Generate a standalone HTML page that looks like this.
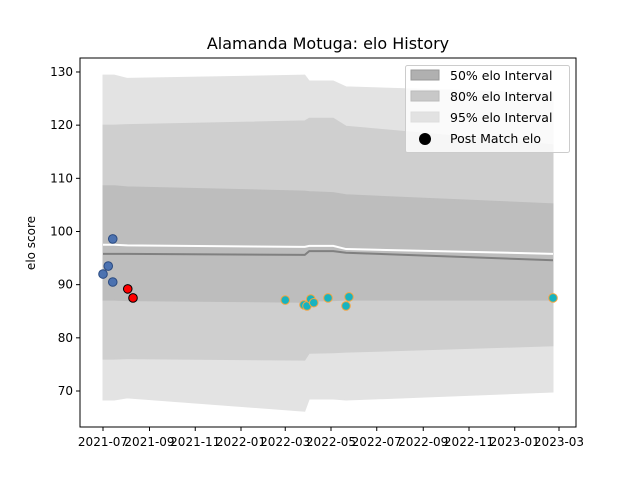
<!DOCTYPE html>
<html><head><meta charset="utf-8"><style>
body{margin:0;background:#fff;font-family:"Liberation Sans","DejaVu Sans",sans-serif}
text{font-family:"DejaVu Sans","Liberation Sans",sans-serif}
</style></head><body>
<svg id="c" width="640" height="480" xmlns="http://www.w3.org/2000/svg"></svg>
<script>
const bandDates=["2021-07-01","2021-07-16","2021-08-02","2022-03-27","2022-04-02","2022-05-04","2022-05-21","2023-02-21"];
const up95=[129.4,129.4,128.8,129.4,128.3,128.3,127.2,126.0];
const lo95=[68.3,68.3,68.7,66.2,68.5,68.5,68.3,69.8];
const up80=[120.0,120.0,120.1,120.8,121.3,121.3,119.8,116.3];
const lo80=[76.0,76.0,76.1,75.8,77.1,77.2,77.3,78.5];
const up50=[108.6,108.6,108.4,107.6,107.5,107.3,106.9,105.2];
const lo50=[87.1,87.1,87.0,86.7,86.9,87.0,87.1,87.1];
const median=[95.8,95.8,95.8,95.6,96.3,96.3,96.0,94.6];
const mean=[97.5,97.5,97.4,97.1,97.3,97.3,96.7,95.8];
const blueDates=["2021-07-14","2021-07-08","2021-07-01","2021-07-14"];
const blueVals=[98.6,93.5,92.0,90.5];
const redDates=["2021-08-03","2021-08-10"];
const redVals=[89.2,87.5];
const tealDates=["2022-03-01","2022-03-26","2022-03-30","2022-04-04","2022-04-08","2022-04-27","2022-05-21","2022-05-25","2023-02-21"];
const tealVals=[87.1,86.2,86.0,87.3,86.6,87.5,86.0,87.7,87.5];
const xTicks=["2021-07","2021-09","2021-11","2022-01","2022-03","2022-05","2022-07","2022-09","2022-11","2023-01","2023-03"];
const yTicks=[70,80,90,100,110,120,130];

const NS="http://www.w3.org/2000/svg",svg=document.getElementById('c');
const t0=Date.UTC(2021,6,1);
function days(s){const p=s.split('-').map(Number);return (Date.UTC(p[0],p[1]-1,p[2]||1)-t0)/86400000;}
const X=s=>103+days(s)*0.75;
const Y=v=>391-(v-70)*5.317;
function el(tag,a,txt){const e=document.createElementNS(NS,tag);for(const k in a)e.setAttribute(k,a[k]);if(txt!=null)e.textContent=txt;svg.appendChild(e);return e;}
function band(up,lo,fill,name){
 let d=bandDates.map((s,i)=>(i?'L':'M')+X(s)+','+Y(up[i])).join('');
 for(let i=bandDates.length-1;i>=0;i--)d+='L'+X(bandDates[i])+','+Y(lo[i]);
 const p=el('path',{d:d+'Z',fill:fill,stroke:fill});
 
 
}
band(up95,lo95,'#e3e3e3','band-95');
band(up80,lo80,'#cfcfcf','band-80');
band(up50,lo50,'#bdbdbd','band-50');
function line(vals,col,name){
 const p=el('polyline',{points:bandDates.map((s,i)=>X(s)+','+Y(vals[i])).join(' '),fill:'none',stroke:col,'stroke-width':2});
 
 
}
line(mean,'#ffffff','mean-line');
line(median,'#808080','median-line');
function pts(ds,vs,fill,stroke,name){
 ds.forEach((s,i)=>{const c=el('circle',{cx:X(s),cy:Y(vs[i]),r:4.3,fill:fill,stroke:stroke,'stroke-width':1});
 
 });
}
pts(blueDates,blueVals,'#4c72b0','#2a4a80','match-point-blue');
pts(redDates,redVals,'#ff0000','#000000','match-point-red');
pts(tealDates,tealVals,'#17b3c0','#f2a541','match-point-teal');
// frame
const f=el('rect',{x:80,y:58,width:496,height:369,fill:'none',stroke:'#000','stroke-width':1});


xTicks.forEach(s=>{const x=X(s+'-01');
 el('line',{x1:x,x2:x,y1:427,y2:431,stroke:'#000'});
 const t=el('text',{x:x,y:446,'font-size':12,'text-anchor':'middle'},s);
 
 });
yTicks.forEach(v=>{const y=Y(v);
 el('line',{x1:76,x2:80,y1:y,y2:y,stroke:'#000'});
 const t=el('text',{x:73,y:y+4,'font-size':12,'text-anchor':'end'},v);
 
 });
</script>
<svg width="640" height="480" style="position:absolute;left:0;top:0" xmlns="http://www.w3.org/2000/svg">
<text x="328" y="49" font-size="16" text-anchor="middle">Alamanda Motuga: elo History</text>
<text x="35" y="243" font-size="12" text-anchor="middle" transform="rotate(-90 35 243)">elo score</text>
<g>
<rect x="405.5" y="65.5" width="164" height="87" rx="2" fill="#fff" fill-opacity="0.8" stroke="#ccc"/>
<rect x="411" y="70" width="28" height="10" fill="#b0b0b0" stroke="#999"/>
<text x="450" y="80" font-size="12.5">50% elo Interval</text>
<rect x="411" y="91" width="28" height="10" fill="#c8c8c8" stroke="#bbb"/>
<text x="450" y="101" font-size="12.5">80% elo Interval</text>
<rect x="411" y="112" width="28" height="10" fill="#e2e2e2" stroke="#ddd"/>
<text x="450" y="122" font-size="12.5">95% elo Interval</text>
<circle cx="425" cy="139" r="6" fill="#000"/>
<text x="450" y="143" font-size="12.5">Post Match elo</text>
</g>
</svg>
</body></html>
